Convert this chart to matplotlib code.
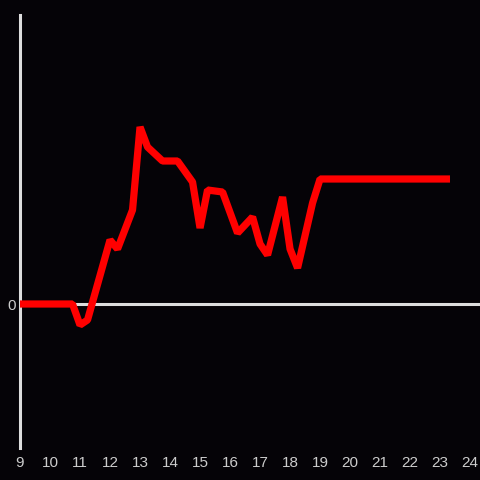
import matplotlib
matplotlib.use("Agg")
import matplotlib.pyplot as plt

hours = [9.0, 10.75, 11.0, 11.25, 12.0, 12.25, 12.75, 13.0, 13.25, 13.75, 14.25,
         14.75, 15.0, 15.25, 15.75, 16.25, 16.75, 17.0, 17.25, 17.75, 18.0, 18.25,
         18.75, 19.0, 23.33]
values = [0, 0, -21, -16, 64, 55, 94, 177, 157, 143, 143,
          122, 76, 114, 112, 71, 87, 60, 49, 107, 55, 36,
          101, 125, 125]
xticks = list(range(9, 25))

bg = "#050307"
fg = "#dddddd"

fig = plt.figure(figsize=(4.8, 4.8), dpi=100, facecolor=bg)
ax = fig.add_axes([20 / 480, 32 / 480, 460 / 480, 433 / 480], facecolor=bg)

ax.plot(hours, values, color="#ff0000", lw=5.2, solid_joinstyle="bevel",
        solid_capstyle="butt", zorder=3)
ax.axhline(0, color=fg, lw=2.2, zorder=2)

ax.set_xlim(9, 24.33)
ax.set_ylim(-144, 289)

for s in ["top", "right", "bottom"]:
    ax.spines[s].set_visible(False)
ax.spines["left"].set_color(fg)
ax.spines["left"].set_linewidth(2.2)

ax.set_xticks(xticks)
ax.set_xticklabels([str(t) for t in xticks])
ax.set_yticks([0])
ax.set_yticklabels(["0"])
ax.tick_params(length=0, colors="#cccccc", labelsize=11)
ax.tick_params(axis="x", pad=6)
ax.tick_params(axis="y", pad=3)
for lbl in ax.get_xticklabels() + ax.get_yticklabels():
    lbl.set_family("Liberation Sans")

fig.savefig("out.png", dpi=100, facecolor=bg)
